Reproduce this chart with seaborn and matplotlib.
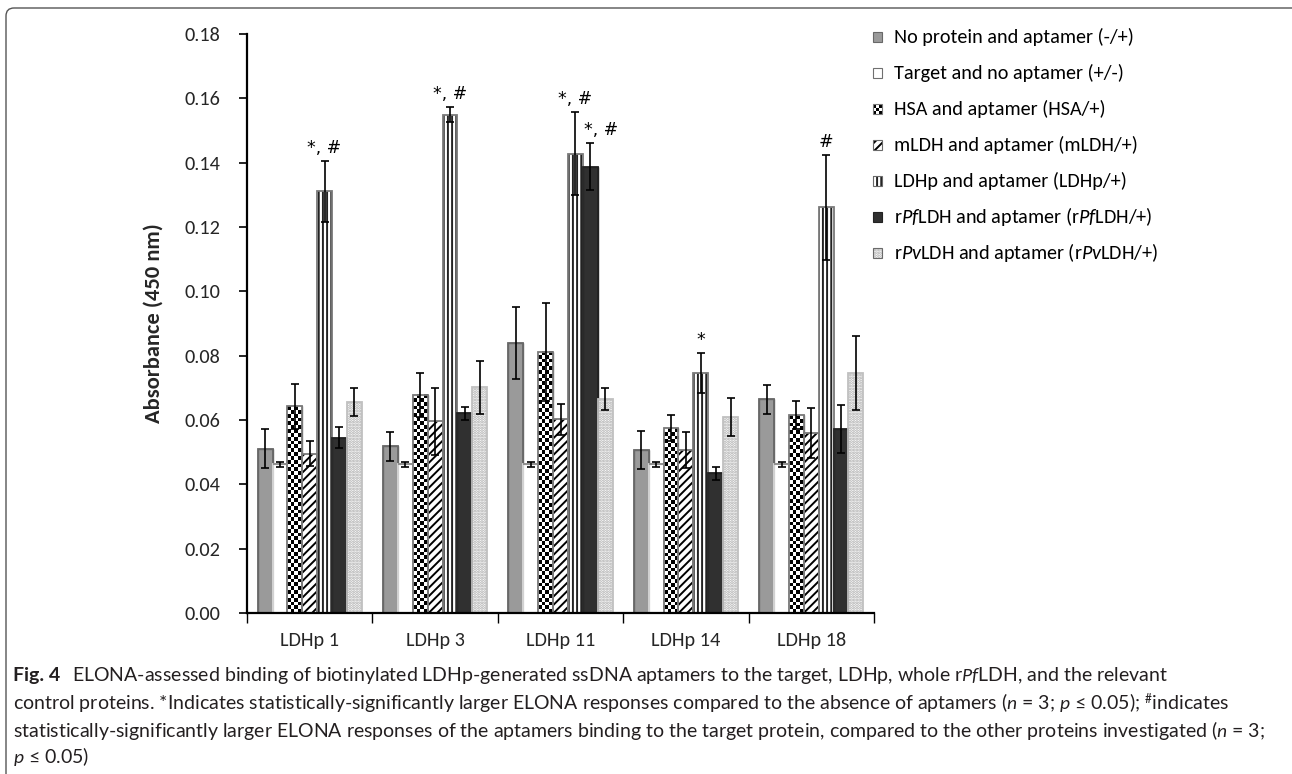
import numpy as np
import pandas as pd
import matplotlib
matplotlib.use("Agg")
import matplotlib.pyplot as plt
import seaborn as sns
from matplotlib import font_manager
from matplotlib.colors import ListedColormap
from matplotlib.patches import Rectangle, PathPatch
from matplotlib.path import Path

# ---- data -----------------------------------------------------------------
aptamers = ["LDHp 1", "LDHp 3", "LDHp 11", "LDHp 14", "LDHp 18"]
conditions = [
    "No protein and aptamer (-/+)",
    "Target and no aptamer (+/-)",
    "HSA and aptamer (HSA/+)",
    "mLDH and aptamer (mLDH/+)",
    "LDHp and aptamer (LDHp/+)",
    r"r$\mathit{Pf}$LDH and aptamer (r$\mathit{Pf}$LDH/+)",
    r"r$\mathit{Pv}$LDH and aptamer (r$\mathit{Pv}$LDH/+)",
]

no_protein = [0.0511, 0.0518, 0.0840, 0.0506, 0.0665]
no_protein_err = [0.0061, 0.0046, 0.0112, 0.0059, 0.0045]
target_only = [0.0462, 0.0462, 0.0462, 0.0462, 0.0462]
target_only_err = [0.0008, 0.0008, 0.0008, 0.0008, 0.0008]
hsa = [0.0643, 0.0678, 0.0812, 0.0575, 0.0615]
hsa_err = [0.0070, 0.0069, 0.0153, 0.0040, 0.0044]
mldh = [0.0495, 0.0596, 0.0602, 0.0507, 0.0560]
mldh_err = [0.0039, 0.0104, 0.0048, 0.0056, 0.0078]
ldhp = [0.1311, 0.1549, 0.1428, 0.0746, 0.1261]
ldhp_err = [0.0095, 0.0023, 0.0130, 0.0062, 0.0163]
rpf = [0.0545, 0.0621, 0.1388, 0.0435, 0.0572]
rpf_err = [0.0033, 0.0020, 0.0073, 0.0020, 0.0074]
rpv = [0.0656, 0.0702, 0.0665, 0.0609, 0.0746]
rpv_err = [0.0043, 0.0082, 0.0033, 0.0059, 0.0116]

ldhp_marks = ["*, #", "*, #", "*, #", "*", "#"]
rpf_marks = ["", "", "*, #", "", ""]

caption_lines = [
    r"ELONA-assessed binding of biotinylated LDHp-generated ssDNA aptamers to the target, LDHp, whole r$\mathit{Pf}$LDH, and the relevant",
    r"control proteins. *Indicates statistically-significantly larger ELONA responses compared to the absence of aptamers ($\mathit{n}$ = 3; $\mathit{p}$ ≤ 0.05); $^{\#}$indicates",
    r"statistically-significantly larger ELONA responses of the aptamers binding to the target protein, compared to the other proteins investigated ($\mathit{n}$ = 3;",
    r"$\mathit{p}$ ≤ 0.05)",
]

values = [no_protein, target_only, hsa, mldh, ldhp, rpf, rpv]
errors = [no_protein_err, target_only_err, hsa_err, mldh_err, ldhp_err, rpf_err, rpv_err]

# ---- fonts ----------------------------------------------------------------
available = {f.name for f in font_manager.fontManager.ttflist}


def pick(*names):
    for n in names:
        if n in available:
            return n
    return "DejaVu Sans"


chart_font = pick("Carlito", "Lato", "Open Sans")
caption_font = pick("Lato", "Open Sans", "Roboto")

sns.set_theme(style="white")
plt.rcParams["font.family"] = [chart_font, "DejaVu Sans"]
plt.rcParams["mathtext.fontset"] = "custom"
plt.rcParams["mathtext.rm"] = chart_font
plt.rcParams["mathtext.it"] = chart_font + ":italic"
plt.rcParams["mathtext.bf"] = chart_font + ":bold"
plt.rcParams["hatch.linewidth"] = 1.4

W, H = 1292, 774
AX_L, AX_R, AX_T, AX_B = 247, 874, 34, 613
fig = plt.figure(figsize=(W / 100, H / 100), dpi=100)
renderer = fig.canvas.get_renderer()


def fx(px):
    return px / W


def fy(py):
    return 1 - py / H


def fit_size(text, width_px, base=12.0, **kw):
    """Font size at which `text` spans width_px pixels."""
    t = fig.text(0, 0, text, fontsize=base, **kw)
    w = t.get_window_extent(renderer).width
    t.remove()
    return base * width_px / w


ax = fig.add_axes([fx(AX_L), fy(AX_B), (AX_R - AX_L) / W, (AX_B - AX_T) / H])

df = pd.DataFrame(
    [(a, c, v) for c, vals in zip(conditions, values) for a, v in zip(aptamers, vals)],
    columns=["aptamer", "condition", "absorbance"],
)

faces = ["#9a9a9a", "white", "white", "white", "white", "#303030", "white"]
edges = ["#686868", "#dcdcdc", "#7a7a7a", "#7a7a7a", "#7a7a7a", "#222222", "#c0c0c0"]
hatches = [None, None, None, "////", "||||", None, "......"]
hatch_cols = [None, None, None, "black", "#222222", None, "#a8a8a8"]

sns.barplot(
    data=df, x="aptamer", y="absorbance", hue="condition",
    order=aptamers, hue_order=conditions, palette=faces,
    width=0.83, errorbar=None, saturation=1, legend=False, ax=ax,
)
bar_groups = list(ax.containers)

ax.set_xlim(-0.5, len(aptamers) - 0.5)
ax.set_ylim(0, 0.18)
ax.set_yticks(np.arange(0, 0.181, 0.02))
ax.yaxis.set_major_formatter(matplotlib.ticker.FormatStrFormatter("%.2f"))

# style bars; hatches take the edge colour, so outlines are added on top
checker_cmap = ListedColormap(["white", "black"])
sq = 3.8
for i, cont in enumerate(bar_groups):
    for p in cont.patches:
        x0, w, h = p.get_x(), p.get_width(), p.get_height()
        if hatches[i]:
            p.set_hatch(hatches[i])
            p.set_edgecolor(hatch_cols[i])
            p.set_linewidth(0)
        else:
            p.set_edgecolor(edges[i])
            p.set_linewidth(1.0)
        if i == 2:
            a = ax.transData.transform((x0, 0))
            b = ax.transData.transform((x0 + w, h))
            nx = max(1, int(round((b[0] - a[0]) / sq)))
            ny = max(1, int(round((b[1] - a[1]) / sq)))
            board = np.add.outer(np.arange(ny), np.arange(nx)) % 2
            ax.imshow(board, extent=(x0, x0 + w, 0, h), cmap=checker_cmap,
                      interpolation="nearest", aspect="auto", origin="lower",
                      zorder=p.get_zorder() + 0.1)
        ax.add_patch(Rectangle((x0, 0), w, h, fill=False, edgecolor=edges[i],
                               linewidth=1.3, zorder=p.get_zorder() + 0.2))
        if i == 1:
            ax.plot([x0, x0 + w], [h, h], color="#8a8a8a", lw=1.3,
                    zorder=p.get_zorder() + 0.3, solid_capstyle="butt")

ax.set_xlim(-0.5, len(aptamers) - 0.5)
ax.set_ylim(0, 0.18)

# error bars
for i, cont in enumerate(bar_groups):
    xs = [p.get_x() + p.get_width() / 2 for p in cont.patches]
    ax.errorbar(xs, values[i], yerr=errors[i], fmt="none", ecolor="black",
                elinewidth=1.2, capsize=3, capthick=1.2, zorder=5)

# significance marks
mark_family = ["DejaVu Sans"]
mark_size = fit_size("*, #", 34, family=mark_family)
for i, marks, dx in [(4, ldhp_marks, 0), (5, rpf_marks, 8)]:
    for j, m in enumerate(marks):
        if not m:
            continue
        p = bar_groups[i].patches[j]
        ax.annotate(m, xy=(p.get_x() + p.get_width() / 2, values[i][j] + errors[i][j]),
                    xytext=(dx, 3), textcoords="offset points", family=mark_family,
                    ha="center", va="bottom", fontsize=mark_size, color="black")

# axes styling
tick_size = fit_size("0.14", 36)
xlab_size = fit_size("LDHp 1", 59)
for s in ["top", "right"]:
    ax.spines[s].set_visible(False)
for s in ["left", "bottom"]:
    ax.spines[s].set_color("black")
    ax.spines[s].set_linewidth(1.6)
ax.tick_params(axis="y", which="major", direction="out", length=6, width=1.2,
               color="black", labelsize=tick_size, pad=13, left=True)
ax.set_xticks(range(len(aptamers)))
ax.set_xticklabels(aptamers)
ax.set_xticks(np.arange(-0.5, len(aptamers), 1.0), minor=True)
ax.tick_params(axis="x", which="major", length=0, labelsize=xlab_size, pad=14)
ax.tick_params(axis="x", which="minor", direction="out", length=7, width=1.0,
               color="black", bottom=True)
ax.set_xlabel("")
ylab = "Absorbance (450 nm)"
ax.set_ylabel(ylab, fontsize=fit_size(ylab, 200, fontweight="bold"), fontweight="bold")
ax.yaxis.set_label_coords(-(AX_L - 164) / (AX_R - AX_L), 0.5)
ax.grid(False)

# legend: one row per condition, square swatch then label
leg_size = fit_size(conditions[6], 1158 - 894)
sw = 9
for i, c in enumerate(conditions):
    yc = 37 + 36 * i
    x0, y0 = fx(873), fy(yc + sw / 2)
    wf, hf = sw / W, sw / H
    if i == 2:
        fig.add_artist(Rectangle((x0, y0), wf, hf, facecolor="white", edgecolor="none",
                                 transform=fig.transFigure))
        n = 3
        for rr in range(n):
            for cc in range(n):
                if (rr + cc) % 2 == 0:
                    fig.add_artist(Rectangle((x0 + cc * wf / n, y0 + rr * hf / n), wf / n, hf / n,
                                             facecolor="black", edgecolor="none",
                                             transform=fig.transFigure))
        fig.add_artist(Rectangle((x0, y0), wf, hf, fill=False, edgecolor="#7a7a7a", lw=0.8,
                                 transform=fig.transFigure))
    elif hatches[i]:
        fig.add_artist(Rectangle((x0, y0), wf, hf, facecolor="white", edgecolor=hatch_cols[i],
                                 hatch=hatches[i], lw=0, transform=fig.transFigure))
        fig.add_artist(Rectangle((x0, y0), wf, hf, fill=False, edgecolor="#6a6a6a", lw=0.8,
                                 transform=fig.transFigure))
    else:
        edge = "#707070" if i == 1 else edges[i]
        fig.add_artist(Rectangle((x0, y0), wf, hf, facecolor=faces[i], edgecolor=edge, lw=0.8,
                                 transform=fig.transFigure))
    fig.text(fx(894), fy(yc), c, fontsize=leg_size, va="center", ha="left", color="black")

# outer frame with a rounded corner
r = 8
pts = [(6, H + 10), (6, 8 + r), (6, 8), (6 + r, 8), (W + 10, 8)]
codes = [Path.MOVETO, Path.LINETO, Path.CURVE3, Path.CURVE3, Path.LINETO]
frame = Path([(fx(x), fy(y)) for x, y in pts], codes)
fig.add_artist(PathPatch(frame, fill=False, edgecolor="#555555", lw=1.0,
                         transform=fig.transFigure, clip_on=False))

# caption, sized so the third line reaches the right margin
cap_family = [caption_font, "DejaVu Sans"]
cap_size = fit_size(caption_lines[2], 1262 - 13, family=cap_family)
cap_kw = dict(fontsize=cap_size, family=cap_family, color="#231f20", va="center")
line_y = [676, 703, 730, 756]
fig.text(fx(13), fy(line_y[0]), "Fig. 4", fontweight="bold", **cap_kw)
fig.text(fx(72), fy(line_y[0]), caption_lines[0], **cap_kw)
for k in range(1, 4):
    fig.text(fx(13), fy(line_y[k]), caption_lines[k], **cap_kw)

fig.savefig("out.png", dpi=100, facecolor="white")
